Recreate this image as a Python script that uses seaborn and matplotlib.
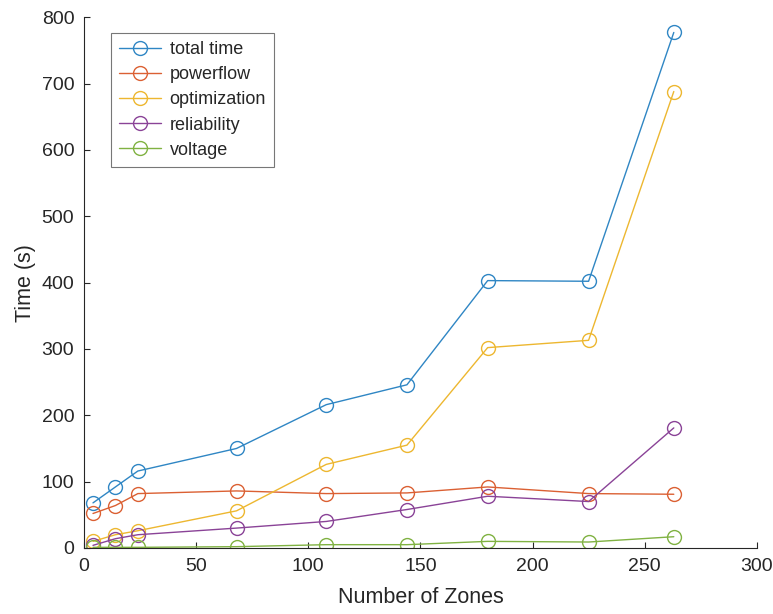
import matplotlib
matplotlib.use("Agg")
import matplotlib.pyplot as plt
import seaborn as sns
import pandas as pd

zones = [4, 14, 24, 68, 108, 144, 180, 225, 263]
total_time = [68, 92, 116, 150, 216, 246, 403, 402, 777]
powerflow = [52, 64, 82, 86, 82, 83, 92, 82, 81]
optimization = [10, 20, 26, 56, 126, 155, 302, 313, 688]
reliability = [4, 14, 20, 30, 40, 58, 78, 70, 181]
voltage = [1, 1, 1, 2, 5, 5, 10, 9, 17]

series = {
    "total time": total_time,
    "powerflow": powerflow,
    "optimization": optimization,
    "reliability": reliability,
    "voltage": voltage,
}
colors = ["#2F86C4", "#DB6033", "#EDB730", "#8A4397", "#80B242"]

sns.set_style("white")
plt.rcParams['font.family'] = ['Liberation Sans', 'DejaVu Sans']

fig = plt.figure(figsize=(7.73, 6.14), dpi=100)
ax = fig.add_axes([0.1087, 0.1075, 0.8703, 0.8645])

for (name, vals), c in zip(series.items(), colors):
    df = pd.DataFrame({"zones": zones, "time": vals})
    sns.lineplot(data=df, x="zones", y="time", ax=ax, color=c, label=name,
                 marker="o", markersize=10, markerfacecolor="none",
                 markeredgecolor=c, markeredgewidth=1.0, linewidth=1.0)

ax.set_xlim(0, 300)
ax.set_ylim(0, 800)
ax.set_xticks(range(0, 301, 50))
ax.set_yticks(range(0, 801, 100))
ax.set_xlabel("Number of Zones", fontsize=15.5, color="#262626", labelpad=9)
ax.set_ylabel("Time (s)", fontsize=15.5, color="#262626", labelpad=4)
ax.tick_params(direction="in", length=4, width=0.8, labelsize=14, pad=7,
               colors="#262626", bottom=True, left=True)
for s in ["top", "right"]:
    ax.spines[s].set_visible(False)
for s in ["left", "bottom"]:
    ax.spines[s].set_color("#262626")
    ax.spines[s].set_linewidth(0.8)

leg = ax.legend(loc="upper left", bbox_to_anchor=(0.04, 0.97), fontsize=13,
                frameon=True, fancybox=False, edgecolor="#555555",
                handlelength=2.3, handletextpad=0.5, borderpad=0.45,
                labelspacing=0.45, borderaxespad=0)
leg.get_frame().set_linewidth(0.8)

fig.savefig("out.png", dpi=100)
